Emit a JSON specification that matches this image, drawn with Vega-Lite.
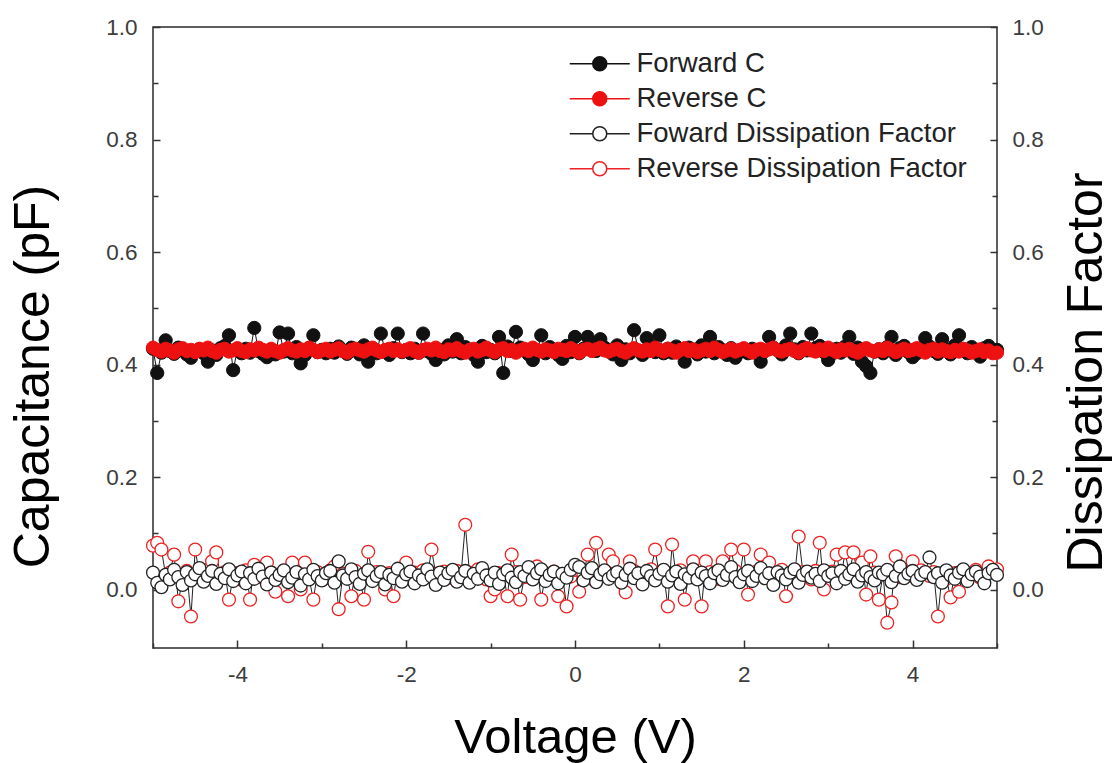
{
"$schema": "https://vega.github.io/schema/vega-lite/v6.json",
"width": 844,
"height": 621,
"autosize": {"type": "none"},
"padding": {"left": 153, "top": 27, "right": 120, "bottom": 115},
"background": "#ffffff",
"config": {
  "view": {"stroke": "#2a2a2a", "strokeWidth": 1.5},
  "axis": {"grid": false, "domain": false, "labelFont": "Liberation Sans", "labelFontSize": 22.5, "labelColor": "#3c3c3c", "titleFont": "Liberation Sans", "titleFontSize": 50, "titleFontWeight": "normal", "titleColor": "#000000", "tickColor": "#333333", "tickWidth": 1.5, "labelPadding": 23},
  "legend": {"orient": "none", "legendX": 433, "legendY": 23, "padding": 0, "symbolSize": 400, "symbolStrokeWidth": 1.5, "symbolOpacity": 1, "labelFont": "Liberation Sans", "labelFontSize": 27.5, "labelColor": "#222222", "labelOffset": 23, "labelLimit": 600, "rowPadding": 6}
},
"data": {"values": [
{"v":-5,"fc":0.428,"rc":0.430,"fd":0.030,"rd":0.078},
{"v":-4.95,"fc":0.385,"rc":0.426,"fd":0.012,"rd":0.083},
{"v":-4.9,"fc":0.421,"rc":0.423,"fd":0.004,"rd":0.071},
{"v":-4.85,"fc":0.443,"rc":0.428,"fd":0.026,"rd":0.025},
{"v":-4.8,"fc":0.424,"rc":0.425,"fd":0.018,"rd":0.030},
{"v":-4.75,"fc":0.419,"rc":0.421,"fd":0.035,"rd":0.062},
{"v":-4.7,"fc":0.430,"rc":0.427,"fd":0.022,"rd":-0.021},
{"v":-4.65,"fc":0.426,"rc":0.429,"fd":0.008,"rd":0.018},
{"v":-4.6,"fc":0.418,"rc":0.424,"fd":0.031,"rd":0.033},
{"v":-4.55,"fc":0.412,"rc":0.426,"fd":0.016,"rd":-0.048},
{"v":-4.5,"fc":0.423,"rc":0.422,"fd":0.027,"rd":0.071},
{"v":-4.45,"fc":0.427,"rc":0.428,"fd":0.038,"rd":0.027},
{"v":-4.4,"fc":0.420,"rc":0.425,"fd":0.014,"rd":0.020},
{"v":-4.35,"fc":0.405,"rc":0.430,"fd":0.024,"rd":0.035},
{"v":-4.3,"fc":0.425,"rc":0.424,"fd":0.033,"rd":0.050},
{"v":-4.25,"fc":0.417,"rc":0.421,"fd":0.010,"rd":0.066},
{"v":-4.2,"fc":0.429,"rc":0.426,"fd":0.028,"rd":0.024},
{"v":-4.15,"fc":0.433,"rc":0.428,"fd":0.020,"rd":0.031},
{"v":-4.1,"fc":0.452,"rc":0.423,"fd":0.036,"rd":-0.018},
{"v":-4.05,"fc":0.390,"rc":0.425,"fd":0.015,"rd":0.022},
{"v":-4,"fc":0.426,"rc":0.429,"fd":0.025,"rd":0.029},
{"v":-3.95,"fc":0.420,"rc":0.424,"fd":0.032,"rd":0.017},
{"v":-3.9,"fc":0.428,"rc":0.422,"fd":0.011,"rd":0.034},
{"v":-3.85,"fc":0.421,"rc":0.427,"fd":0.029,"rd":-0.018},
{"v":-3.8,"fc":0.465,"rc":0.425,"fd":0.019,"rd":0.044},
{"v":-3.75,"fc":0.424,"rc":0.430,"fd":0.037,"rd":0.026},
{"v":-3.7,"fc":0.419,"rc":0.426,"fd":0.023,"rd":0.021},
{"v":-3.65,"fc":0.413,"rc":0.423,"fd":0.009,"rd":0.048},
{"v":-3.6,"fc":0.426,"rc":0.428,"fd":0.030,"rd":0.030},
{"v":-3.55,"fc":0.418,"rc":0.424,"fd":0.017,"rd":-0.004},
{"v":-3.5,"fc":0.457,"rc":0.421,"fd":0.026,"rd":0.023},
{"v":-3.45,"fc":0.423,"rc":0.426,"fd":0.034,"rd":0.032},
{"v":-3.4,"fc":0.455,"rc":0.429,"fd":0.013,"rd":-0.012},
{"v":-3.35,"fc":0.420,"rc":0.425,"fd":0.021,"rd":0.048},
{"v":-3.3,"fc":0.431,"rc":0.423,"fd":0.031,"rd":0.027},
{"v":-3.25,"fc":0.402,"rc":0.427,"fd":0.007,"rd":0.000},
{"v":-3.2,"fc":0.417,"rc":0.424,"fd":0.027,"rd":0.048},
{"v":-3.15,"fc":0.429,"rc":0.430,"fd":0.018,"rd":0.019},
{"v":-3.1,"fc":0.452,"rc":0.426,"fd":0.035,"rd":-0.018},
{"v":-3.05,"fc":0.422,"rc":0.422,"fd":0.024,"rd":0.031},
{"v":-3,"fc":0.426,"rc":0.425,"fd":0.016,"rd":0.025},
{"v":-2.95,"fc":0.420,"rc":0.428,"fd":0.029,"rd":0.020},
{"v":-2.9,"fc":0.428,"rc":0.423,"fd":0.033,"rd":0.034},
{"v":-2.85,"fc":0.421,"rc":0.426,"fd":0.012,"rd":0.041},
{"v":-2.8,"fc":0.432,"rc":0.429,"fd":0.050,"rd":-0.035},
{"v":-2.75,"fc":0.424,"rc":0.424,"fd":0.025,"rd":0.028},
{"v":-2.7,"fc":0.419,"rc":0.421,"fd":0.019,"rd":0.022},
{"v":-2.65,"fc":0.430,"rc":0.426,"fd":0.036,"rd":-0.012},
{"v":-2.6,"fc":0.426,"rc":0.428,"fd":0.022,"rd":0.033},
{"v":-2.55,"fc":0.418,"rc":0.425,"fd":0.010,"rd":0.018},
{"v":-2.5,"fc":0.434,"rc":0.423,"fd":0.028,"rd":-0.018},
{"v":-2.45,"fc":0.405,"rc":0.427,"fd":0.034,"rd":0.067},
{"v":-2.4,"fc":0.427,"rc":0.430,"fd":0.015,"rd":0.026},
{"v":-2.35,"fc":0.420,"rc":0.425,"fd":0.024,"rd":0.031},
{"v":-2.3,"fc":0.455,"rc":0.422,"fd":0.031,"rd":0.021},
{"v":-2.25,"fc":0.425,"rc":0.426,"fd":0.009,"rd":0.000},
{"v":-2.2,"fc":0.417,"rc":0.428,"fd":0.026,"rd":0.029},
{"v":-2.15,"fc":0.429,"rc":0.424,"fd":0.020,"rd":-0.012},
{"v":-2.1,"fc":0.455,"rc":0.427,"fd":0.037,"rd":0.035},
{"v":-2.05,"fc":0.422,"rc":0.423,"fd":0.014,"rd":0.024},
{"v":-2,"fc":0.426,"rc":0.426,"fd":0.027,"rd":0.048},
{"v":-1.95,"fc":0.420,"rc":0.429,"fd":0.032,"rd":0.019},
{"v":-1.9,"fc":0.428,"rc":0.424,"fd":0.011,"rd":0.030},
{"v":-1.85,"fc":0.421,"rc":0.421,"fd":0.025,"rd":0.026},
{"v":-1.8,"fc":0.455,"rc":0.426,"fd":0.018,"rd":0.034},
{"v":-1.75,"fc":0.424,"rc":0.428,"fd":0.036,"rd":0.022},
{"v":-1.7,"fc":0.419,"rc":0.425,"fd":0.023,"rd":0.071},
{"v":-1.65,"fc":0.408,"rc":0.430,"fd":0.008,"rd":0.028},
{"v":-1.6,"fc":0.426,"rc":0.424,"fd":0.030,"rd":0.017},
{"v":-1.55,"fc":0.418,"rc":0.422,"fd":0.017,"rd":0.032},
{"v":-1.5,"fc":0.434,"rc":0.427,"fd":0.029,"rd":0.025},
{"v":-1.45,"fc":0.423,"rc":0.425,"fd":0.035,"rd":0.020},
{"v":-1.4,"fc":0.445,"rc":0.429,"fd":0.014,"rd":0.033},
{"v":-1.35,"fc":0.420,"rc":0.424,"fd":0.022,"rd":0.027},
{"v":-1.3,"fc":0.431,"rc":0.421,"fd":0.033,"rd":0.115},
{"v":-1.25,"fc":0.425,"rc":0.426,"fd":0.012,"rd":0.030},
{"v":-1.2,"fc":0.417,"rc":0.428,"fd":0.028,"rd":0.021},
{"v":-1.15,"fc":0.405,"rc":0.423,"fd":0.019,"rd":0.036},
{"v":-1.1,"fc":0.433,"rc":0.426,"fd":0.038,"rd":0.024},
{"v":-1.05,"fc":0.422,"rc":0.430,"fd":0.025,"rd":0.018},
{"v":-1,"fc":0.426,"rc":0.425,"fd":0.016,"rd":-0.012},
{"v":-0.95,"fc":0.420,"rc":0.422,"fd":0.030,"rd":0.000},
{"v":-0.9,"fc":0.449,"rc":0.427,"fd":0.010,"rd":0.029},
{"v":-0.85,"fc":0.385,"rc":0.429,"fd":0.027,"rd":0.025},
{"v":-0.8,"fc":0.432,"rc":0.424,"fd":0.034,"rd":-0.012},
{"v":-0.75,"fc":0.424,"rc":0.426,"fd":0.021,"rd":0.062},
{"v":-0.7,"fc":0.458,"rc":0.421,"fd":0.013,"rd":0.031},
{"v":-0.65,"fc":0.430,"rc":0.425,"fd":0.031,"rd":-0.018},
{"v":-0.6,"fc":0.426,"rc":0.428,"fd":0.024,"rd":0.022},
{"v":-0.55,"fc":0.418,"rc":0.424,"fd":0.040,"rd":0.027},
{"v":-0.5,"fc":0.408,"rc":0.430,"fd":0.018,"rd":0.034},
{"v":-0.45,"fc":0.423,"rc":0.426,"fd":0.029,"rd":0.041},
{"v":-0.4,"fc":0.452,"rc":0.423,"fd":0.036,"rd":-0.018},
{"v":-0.35,"fc":0.420,"rc":0.427,"fd":0.015,"rd":0.026},
{"v":-0.3,"fc":0.431,"rc":0.425,"fd":0.026,"rd":0.020},
{"v":-0.25,"fc":0.425,"rc":0.422,"fd":0.032,"rd":0.032},
{"v":-0.2,"fc":0.417,"rc":0.428,"fd":0.011,"rd":-0.012},
{"v":-0.15,"fc":0.410,"rc":0.426,"fd":0.028,"rd":0.028},
{"v":-0.1,"fc":0.433,"rc":0.424,"fd":0.021,"rd":-0.030},
{"v":-0.05,"fc":0.422,"rc":0.429,"fd":0.035,"rd":0.023},
{"v":0,"fc":0.449,"rc":0.425,"fd":0.044,"rd":0.035},
{"v":0.05,"fc":0.420,"rc":0.421,"fd":0.040,"rd":-0.004},
{"v":0.1,"fc":0.428,"rc":0.426,"fd":0.016,"rd":0.026},
{"v":0.15,"fc":0.449,"rc":0.428,"fd":0.030,"rd":0.062},
{"v":0.2,"fc":0.432,"rc":0.424,"fd":0.038,"rd":0.019},
{"v":0.25,"fc":0.424,"rc":0.427,"fd":0.013,"rd":0.083},
{"v":0.3,"fc":0.445,"rc":0.430,"fd":0.027,"rd":0.030},
{"v":0.35,"fc":0.430,"rc":0.425,"fd":0.034,"rd":0.024},
{"v":0.4,"fc":0.426,"rc":0.423,"fd":0.019,"rd":0.062},
{"v":0.45,"fc":0.418,"rc":0.426,"fd":0.025,"rd":0.050},
{"v":0.5,"fc":0.434,"rc":0.428,"fd":0.031,"rd":0.027},
{"v":0.55,"fc":0.408,"rc":0.424,"fd":0.012,"rd":0.021},
{"v":0.6,"fc":0.427,"rc":0.421,"fd":0.026,"rd":-0.005},
{"v":0.65,"fc":0.420,"rc":0.426,"fd":0.037,"rd":0.050},
{"v":0.7,"fc":0.461,"rc":0.429,"fd":0.020,"rd":0.033},
{"v":0.75,"fc":0.425,"rc":0.425,"fd":0.029,"rd":0.025},
{"v":0.8,"fc":0.417,"rc":0.423,"fd":0.009,"rd":0.018},
{"v":0.85,"fc":0.447,"rc":0.427,"fd":0.033,"rd":0.030},
{"v":0.9,"fc":0.433,"rc":0.424,"fd":0.024,"rd":0.036},
{"v":0.95,"fc":0.422,"rc":0.430,"fd":0.016,"rd":0.071},
{"v":1,"fc":0.452,"rc":0.426,"fd":0.028,"rd":0.024},
{"v":1.05,"fc":0.420,"rc":0.423,"fd":0.035,"rd":0.029},
{"v":1.1,"fc":0.428,"rc":0.428,"fd":0.014,"rd":-0.030},
{"v":1.15,"fc":0.421,"rc":0.425,"fd":0.025,"rd":0.080},
{"v":1.2,"fc":0.432,"rc":0.421,"fd":0.032,"rd":0.022},
{"v":1.25,"fc":0.424,"rc":0.426,"fd":0.010,"rd":0.034},
{"v":1.3,"fc":0.405,"rc":0.429,"fd":0.027,"rd":-0.018},
{"v":1.35,"fc":0.430,"rc":0.424,"fd":0.021,"rd":0.027},
{"v":1.4,"fc":0.426,"rc":0.427,"fd":0.036,"rd":0.050},
{"v":1.45,"fc":0.418,"rc":0.422,"fd":0.018,"rd":0.020},
{"v":1.5,"fc":0.434,"rc":0.425,"fd":0.030,"rd":-0.030},
{"v":1.55,"fc":0.423,"rc":0.428,"fd":0.024,"rd":0.050},
{"v":1.6,"fc":0.449,"rc":0.424,"fd":0.011,"rd":0.031},
{"v":1.65,"fc":0.420,"rc":0.430,"fd":0.029,"rd":0.025},
{"v":1.7,"fc":0.431,"rc":0.426,"fd":0.034,"rd":0.019},
{"v":1.75,"fc":0.425,"rc":0.422,"fd":0.017,"rd":0.050},
{"v":1.8,"fc":0.417,"rc":0.425,"fd":0.026,"rd":0.028},
{"v":1.85,"fc":0.429,"rc":0.428,"fd":0.040,"rd":0.071},
{"v":1.9,"fc":0.412,"rc":0.423,"fd":0.022,"rd":0.033},
{"v":1.95,"fc":0.422,"rc":0.426,"fd":0.013,"rd":0.022},
{"v":2,"fc":0.426,"rc":0.429,"fd":0.027,"rd":0.071},
{"v":2.05,"fc":0.420,"rc":0.425,"fd":0.033,"rd":-0.009},
{"v":2.1,"fc":0.428,"rc":0.421,"fd":0.015,"rd":0.026},
{"v":2.15,"fc":0.421,"rc":0.426,"fd":0.024,"rd":0.032},
{"v":2.2,"fc":0.405,"rc":0.428,"fd":0.038,"rd":0.062},
{"v":2.25,"fc":0.424,"rc":0.424,"fd":0.020,"rd":0.024},
{"v":2.3,"fc":0.449,"rc":0.427,"fd":0.029,"rd":0.048},
{"v":2.35,"fc":0.430,"rc":0.430,"fd":0.008,"rd":0.019},
{"v":2.4,"fc":0.426,"rc":0.425,"fd":0.031,"rd":0.030},
{"v":2.45,"fc":0.418,"rc":0.423,"fd":0.025,"rd":0.035},
{"v":2.5,"fc":0.434,"rc":0.426,"fd":0.018,"rd":-0.012},
{"v":2.55,"fc":0.455,"rc":0.428,"fd":0.030,"rd":0.027},
{"v":2.6,"fc":0.427,"rc":0.424,"fd":0.036,"rd":0.022},
{"v":2.65,"fc":0.420,"rc":0.421,"fd":0.012,"rd":0.094},
{"v":2.7,"fc":0.431,"rc":0.426,"fd":0.026,"rd":0.031},
{"v":2.75,"fc":0.425,"rc":0.429,"fd":0.032,"rd":0.025},
{"v":2.8,"fc":0.455,"rc":0.425,"fd":0.021,"rd":0.018},
{"v":2.85,"fc":0.429,"rc":0.423,"fd":0.028,"rd":0.033},
{"v":2.9,"fc":0.433,"rc":0.427,"fd":0.015,"rd":0.083},
{"v":2.95,"fc":0.422,"rc":0.424,"fd":0.034,"rd":0.000},
{"v":3,"fc":0.408,"rc":0.430,"fd":0.024,"rd":0.026},
{"v":3.05,"fc":0.420,"rc":0.426,"fd":0.029,"rd":0.032},
{"v":3.1,"fc":0.428,"rc":0.422,"fd":0.011,"rd":0.062},
{"v":3.15,"fc":0.421,"rc":0.427,"fd":0.033,"rd":0.021},
{"v":3.2,"fc":0.432,"rc":0.425,"fd":0.019,"rd":0.066},
{"v":3.25,"fc":0.449,"rc":0.428,"fd":0.027,"rd":0.029},
{"v":3.3,"fc":0.419,"rc":0.424,"fd":0.036,"rd":0.066},
{"v":3.35,"fc":0.430,"rc":0.421,"fd":0.014,"rd":0.024},
{"v":3.4,"fc":0.405,"rc":0.426,"fd":0.025,"rd":0.048},
{"v":3.45,"fc":0.397,"rc":0.429,"fd":0.031,"rd":-0.009},
{"v":3.5,"fc":0.385,"rc":0.425,"fd":0.022,"rd":0.059},
{"v":3.55,"fc":0.423,"rc":0.423,"fd":0.016,"rd":0.030},
{"v":3.6,"fc":0.427,"rc":0.427,"fd":0.030,"rd":-0.018},
{"v":3.65,"fc":0.420,"rc":0.424,"fd":0.027,"rd":0.027},
{"v":3.7,"fc":0.431,"rc":0.430,"fd":0.035,"rd":-0.059},
{"v":3.75,"fc":0.449,"rc":0.426,"fd":0.013,"rd":-0.023},
{"v":3.8,"fc":0.417,"rc":0.422,"fd":0.024,"rd":0.059},
{"v":3.85,"fc":0.429,"rc":0.425,"fd":0.041,"rd":0.022},
{"v":3.9,"fc":0.433,"rc":0.428,"fd":0.020,"rd":0.031},
{"v":3.95,"fc":0.422,"rc":0.424,"fd":0.028,"rd":0.025},
{"v":4,"fc":0.413,"rc":0.426,"fd":0.033,"rd":0.050},
{"v":4.05,"fc":0.420,"rc":0.429,"fd":0.017,"rd":0.020},
{"v":4.1,"fc":0.428,"rc":0.425,"fd":0.026,"rd":0.034},
{"v":4.15,"fc":0.447,"rc":0.421,"fd":0.031,"rd":0.028},
{"v":4.2,"fc":0.432,"rc":0.426,"fd":0.057,"rd":0.024},
{"v":4.25,"fc":0.424,"rc":0.428,"fd":0.022,"rd":0.031},
{"v":4.3,"fc":0.419,"rc":0.423,"fd":0.029,"rd":-0.048},
{"v":4.35,"fc":0.445,"rc":0.427,"fd":0.012,"rd":0.026},
{"v":4.4,"fc":0.426,"rc":0.424,"fd":0.034,"rd":0.019},
{"v":4.45,"fc":0.418,"rc":0.422,"fd":0.025,"rd":-0.014},
{"v":4.5,"fc":0.434,"rc":0.426,"fd":0.019,"rd":0.029},
{"v":4.55,"fc":0.452,"rc":0.423,"fd":0.030,"rd":-0.004},
{"v":4.6,"fc":0.427,"rc":0.428,"fd":0.036,"rd":0.033},
{"v":4.65,"fc":0.420,"rc":0.425,"fd":0.015,"rd":0.023},
{"v":4.7,"fc":0.431,"rc":0.421,"fd":0.027,"rd":0.027},
{"v":4.75,"fc":0.425,"rc":0.424,"fd":0.032,"rd":0.035},
{"v":4.8,"fc":0.414,"rc":0.427,"fd":0.023,"rd":0.021},
{"v":4.85,"fc":0.429,"rc":0.422,"fd":0.011,"rd":0.030},
{"v":4.9,"fc":0.433,"rc":0.425,"fd":0.029,"rd":0.041},
{"v":4.95,"fc":0.422,"rc":0.420,"fd":0.035,"rd":0.032},
{"v":5,"fc":0.426,"rc":0.421,"fd":0.026,"rd":0.036}
]},
"encoding": {
  "x": {"field": "v", "type": "quantitative",
    "scale": {"domain": [-5, 5], "nice": false, "zero": false},
    "axis": {"title": "Voltage (V)", "values": [-5,-4,-3,-2,-1,0,1,2,3,4,5],
      "labelExpr": "datum.value % 2 == 0 ? '' + datum.value : ''",
      "tickSize": {"condition": {"test": "datum.value % 2 == 0", "value": -8}, "value": -5},
      "labelPadding": 23,
      "titleFontSize": 49,
      "titleX": 422, "titleY": 104, "titleBaseline": "alphabetic"}}
},
"layer": [
  {
    "transform": [{"fold": ["fc", "rc"], "as": ["s", "y"]}],
    "encoding": {
      "y": {"field": "y", "type": "quantitative",
        "scale": {"domain": [-0.104, 1], "nice": false, "zero": false},
        "axis": {"orient": "left", "title": "Capacitance (pF)",
          "values": [0,0.1,0.2,0.3,0.4,0.5,0.6,0.7,0.8,0.9,1],
          "labelExpr": "round(datum.value*10) % 2 == 0 ? format(datum.value, '.1f') : ''",
          "tickSize": {"condition": {"test": "round(datum.value*10) % 2 == 0", "value": -7}, "value": -5},
          "labelPadding": 23,
          "titleX": -105, "titleY": 349, "titleAngle": 270, "titleBaseline": "alphabetic"}}
    },
    "layer": [
      {"mark": {"type": "line", "strokeWidth": 1},
       "encoding": {"color": {"field": "s", "type": "nominal",
         "scale": {"domain": ["rd","fd","rc","fc"], "range": ["#222222","#222222","#ee1111","#111111"]},
         "legend": null}}},
      {"mark": {"type": "point", "shape": "circle", "filled": true, "size": 175, "strokeWidth": 1, "opacity": 1},
       "encoding": {
         "fill": {"field": "s", "type": "nominal",
           "scale": {"domain": ["fc","rc","fd","rd"], "range": ["#111111","#ee1111","#ffffff","#ffffff"]},
           "legend": {"title": null, "orient": "none", "legendX": 433, "legendY": 23,
             "labelExpr": "datum.value == 'fc' ? 'Forward C' : datum.value == 'rc' ? 'Reverse C' : datum.value == 'fd' ? 'Foward Dissipation Factor' : 'Reverse Dissipation Factor'",
             "symbolType": "M-3,0L-0.7,0M0.7,0L3,0M-0.7,0A0.7,0.7,0,1,1,0.7,0A0.7,0.7,0,1,1,-0.7,0Z"}},
         "stroke": {"field": "s", "type": "nominal",
           "scale": {"domain": ["fc","rc","fd","rd"], "range": ["#111111","#ee1111","#222222","#ee2222"]},
           "legend": {"title": null, "orient": "none", "legendX": 433, "legendY": 23,
             "labelExpr": "datum.value == 'fc' ? 'Forward C' : datum.value == 'rc' ? 'Reverse C' : datum.value == 'fd' ? 'Foward Dissipation Factor' : 'Reverse Dissipation Factor'",
             "symbolType": "M-3,0L-0.7,0M0.7,0L3,0M-0.7,0A0.7,0.7,0,1,1,0.7,0A0.7,0.7,0,1,1,-0.7,0Z"}},
         "order": {"field": "s", "sort": "ascending"}}}
    ]
  },
  {
    "transform": [{"fold": ["fd", "rd"], "as": ["s", "y"]}],
    "encoding": {
      "y": {"field": "y", "type": "quantitative",
        "scale": {"domain": [-0.104, 1], "nice": false, "zero": false},
        "axis": {"orient": "right", "title": "Dissipation Factor",
          "values": [0,0.1,0.2,0.3,0.4,0.5,0.6,0.7,0.8,0.9,1],
          "labelExpr": "round(datum.value*10) % 2 == 0 ? format(datum.value, '.1f') : ''",
          "tickSize": {"condition": {"test": "round(datum.value*10) % 2 == 0", "value": -7}, "value": -5},
          "labelPadding": 22,
          "titleX": 104, "titleY": 345, "titleAngle": 270, "titleBaseline": "alphabetic"}}
    },
    "layer": [
      {"mark": {"type": "line", "strokeWidth": 1},
       "encoding": {"color": {"field": "s", "type": "nominal",
         "scale": {"domain": ["rd","fd","rc","fc"], "range": ["#222222","#222222","#ee1111","#111111"]},
         "legend": null}}},
      {"mark": {"type": "point", "shape": "circle", "filled": true, "size": 165, "strokeWidth": 1.3, "opacity": 1},
       "encoding": {
         "fill": {"field": "s", "type": "nominal",
           "scale": {"domain": ["fc","rc","fd","rd"], "range": ["#111111","#ee1111","#ffffff","#ffffff"]},
           "legend": {"title": null, "orient": "none", "legendX": 433, "legendY": 23,
             "labelExpr": "datum.value == 'fc' ? 'Forward C' : datum.value == 'rc' ? 'Reverse C' : datum.value == 'fd' ? 'Foward Dissipation Factor' : 'Reverse Dissipation Factor'",
             "symbolType": "M-3,0L-0.7,0M0.7,0L3,0M-0.7,0A0.7,0.7,0,1,1,0.7,0A0.7,0.7,0,1,1,-0.7,0Z"}},
         "stroke": {"field": "s", "type": "nominal",
           "scale": {"domain": ["fc","rc","fd","rd"], "range": ["#111111","#ee1111","#222222","#ee2222"]},
           "legend": {"title": null, "orient": "none", "legendX": 433, "legendY": 23,
             "labelExpr": "datum.value == 'fc' ? 'Forward C' : datum.value == 'rc' ? 'Reverse C' : datum.value == 'fd' ? 'Foward Dissipation Factor' : 'Reverse Dissipation Factor'",
             "symbolType": "M-3,0L-0.7,0M0.7,0L3,0M-0.7,0A0.7,0.7,0,1,1,0.7,0A0.7,0.7,0,1,1,-0.7,0Z"}},
         "order": {"field": "s", "sort": "descending"}}}
    ]
  }
],
"resolve": {"scale": {"y": "independent"}}
}
